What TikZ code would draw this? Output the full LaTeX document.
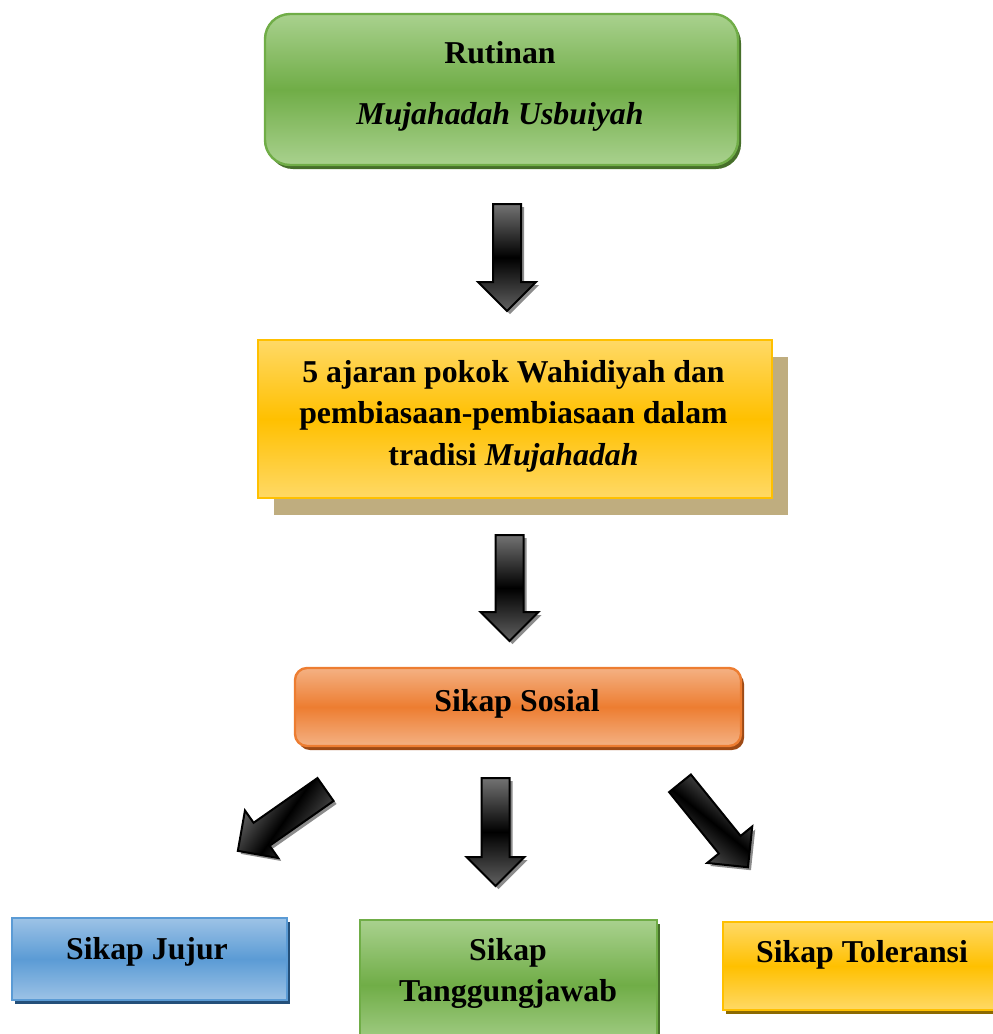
\documentclass[tikz,border=0pt]{standalone}
\usepackage{fontspec}
\setmainfont{Liberation Serif}
\usetikzlibrary{calc}

\definecolor{grnL}{HTML}{A9D18E}
\definecolor{grnM}{HTML}{70AD47}
\definecolor{grnS}{HTML}{466F2A}
\definecolor{yelL}{HTML}{FFD966}
\definecolor{yelM}{HTML}{FFC000}
\definecolor{yelS}{HTML}{BFAD7F}
\definecolor{yelD}{HTML}{8C6A00}
\definecolor{oraL}{HTML}{F4B183}
\definecolor{oraM}{HTML}{ED7D31}
\definecolor{oraS}{HTML}{9E4A15}
\definecolor{bluL}{HTML}{9DC3E6}
\definecolor{bluM}{HTML}{5B9BD5}
\definecolor{bluS}{HTML}{24507A}

\tikzset{
  box/.style={rectangle, line width=1.2pt, inner sep=0pt},
  shad/.style={preaction={fill=#1, transform canvas={shift={(1.5pt,-2pt)}}}},
  grnbox/.style={box, draw=grnM, top color=grnL, bottom color=grnL, middle color=grnM, shad=grnS},
  yelbox/.style={box, draw=yelM, top color=yelL, bottom color=yelL, middle color=yelM},
  orabox/.style={box, draw=oraM, top color=oraL, bottom color=oraL, middle color=oraM, shad=oraS},
  blubox/.style={box, draw=bluM, top color=bluL, bottom color=bluL, middle color=bluM, shad=bluS},
  txt/.style={font=\fontsize{15.9}{20.8}\selectfont\bfseries, align=center, inner sep=0pt},
  arr/.style={draw=black, line width=1pt, line join=miter,
    top color=black!55, bottom color=black!62, middle color=black},
  arrsh/.style={fill=black!45},
}

% block arrow outline: tail centre, direction, length, style
\newcommand{\arrowpath}[4]{%
  \path[#4] ($(#1)+(#2-90:7pt)$) -- ($(#1)+(#2:#3-14.5pt)+(#2-90:7pt)$)
    -- ($(#1)+(#2:#3-14.5pt)+(#2-90:14.5pt)$) -- ($(#1)+(#2:#3)$)
    -- ($(#1)+(#2:#3-14.5pt)+(#2+90:14.5pt)$) -- ($(#1)+(#2:#3-14.5pt)+(#2+90:7pt)$)
    -- ($(#1)+(#2+90:7pt)$) -- cycle;}
\newcommand{\blockarrow}[4]{%
  \coordinate (#1sh) at ([shift={(1.5pt,-1.5pt)}]#2);
  \coordinate (#1) at (#2);
  \pgfmathsetmacro\shang{-(#3+90)}
  \arrowpath{#1sh}{#3}{#4}{arrsh}
  \arrowpath{#1}{#3}{#4}{arr, shading angle=\shang}}

\begin{document}
\begin{tikzpicture}[x=0.5pt, y=-0.5pt]
    \useasboundingbox (0,0) rectangle (992,1034);

    % boxes
    \node[grnbox, rounded corners=12.5pt, minimum width=236.5pt, minimum height=75.5pt] (rutin) at (501.5,89.5) {};
    \node[txt] (rutintext) at (500,86.5) {Rutinan\\[9.7pt]\textit{Mujahadah Usbuiyah}};

    \node[box, fill=yelS, minimum width=257pt, minimum height=79pt] (ajaransh) at (530.5,436) {};
    \node[yelbox, minimum width=257pt, minimum height=79pt] (ajaran) at (515,419) {};
    \node[txt] (ajarantext) at (513.5,416) {5 ajaran pokok Wahidiyah dan\\pembiasaan-pembiasaan dalam\\tradisi \textit{Mujahadah}};

    \node[orabox, rounded corners=6pt, minimum width=223pt, minimum height=39pt] (sosial) at (518,707) {};
    \node[txt, anchor=base] (sosialtext) at (517,711.5) {Sikap Sosial};

    \node[blubox, minimum width=137.5pt, minimum height=41pt] (jujur) at (149.5,959) {};
    \node[txt, anchor=base] (jujurtext) at (147,959) {Sikap Jujur};

    \node[grnbox, minimum width=148.5pt, minimum height=65pt] (tanggung) at (508.5,985) {};
    \node[txt] (tanggungtext) at (508,973.5) {Sikap\\Tanggungjawab};

    \node[box, draw=yelM, top color=yelL, bottom color=yelL, middle color=yelM, shad=yelD,
      minimum width=141pt, minimum height=44pt] (toleransi) at (864,966) {};
    \node[txt, anchor=base] (toleransitext) at (862,962.5) {Sikap Toleransi};

    % arrows
    \blockarrow{arrA}{507,204}{-90}{53.5pt}
    \blockarrow{arrB}{509.5,535}{-90}{53pt}
    \blockarrow{arrL}{325.5,789.5}{215}{53.5pt}
    \blockarrow{arrM}{495.5,778}{-90}{54pt}
    \blockarrow{arrR}{680,783.3}{-51}{54pt}
\end{tikzpicture}
\end{document}
